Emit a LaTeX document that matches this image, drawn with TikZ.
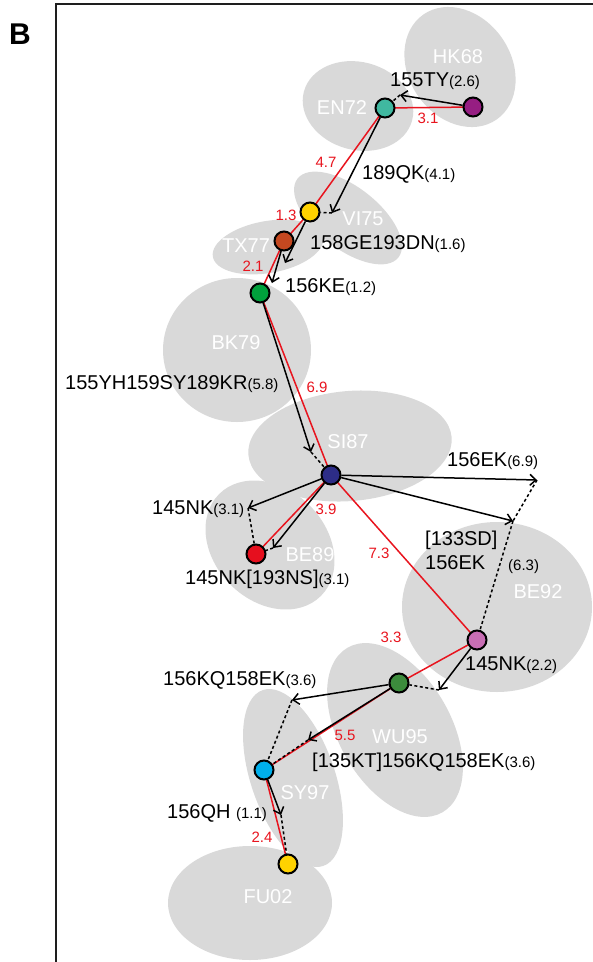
\documentclass[tikz,border=0pt]{standalone}
\usepackage{fontspec}
\setmainfont{Liberation Sans}
\usetikzlibrary{arrows.meta}
\pgfdeclarelayer{bg}
\pgfdeclarelayer{mid}
\pgfsetlayers{bg,mid,main}
\definecolor{blob}{RGB}{217,217,217}
\definecolor{treered}{RGB}{232,20,30}
\definecolor{cHK}{RGB}{150,30,130}
\definecolor{cEN}{RGB}{64,184,160}
\definecolor{cVI}{RGB}{255,210,0}
\definecolor{cTX}{RGB}{196,72,32}
\definecolor{cBK}{RGB}{0,160,60}
\definecolor{cSI}{RGB}{45,45,135}
\definecolor{cBEa}{RGB}{230,15,30}
\definecolor{cBEb}{RGB}{200,110,180}
\definecolor{cWU}{RGB}{60,140,60}
\definecolor{cSY}{RGB}{0,175,235}
\definecolor{cFU}{RGB}{255,210,0}
\newcommand\sm[1]{{\fontsize{15}{17}\selectfont #1}}
\tikzset{
  vnode/.style={circle, draw=black, line width=2pt, minimum size=19pt, inner sep=0pt, fill=#1},
  tree/.style={draw=treered, line width=1.5pt},
  mut/.style={draw=black, line width=1.5pt, -{Straight Barb[length=6pt,width=11pt,line width=1.5pt]}},
  link/.style={draw=black, line width=1.5pt, dash pattern=on 3pt off 2.5pt},
  dist/.style={text=treered, font=\fontsize{15}{17}\selectfont, inner sep=0pt},
  lab/.style={font=\fontsize{20}{23}\selectfont, inner sep=0pt, anchor=base west},
  cname/.style={text=white, font=\fontsize{20}{23}\selectfont, inner sep=0pt},
  blobshape/.style={fill=blob, draw=none},
}
\begin{document}
\begin{tikzpicture}[x=1pt, y=-1pt]
\useasboundingbox (0,0) rectangle (593,962);

% panel letter and frame
\node[font=\fontsize{30}{32}\selectfont\bfseries, inner sep=0pt] (panel) at (20,34) {B};
\draw[line width=2pt, draw={rgb,255:red,30;green,30;blue,30}] (593,4) -- (56,4) -- (56,962);

% antigenic cluster areas
\begin{pgfonlayer}{bg}
\fill[blobshape, shift={(460,67)}, rotate=-55] (0,0) ellipse [x radius=64, y radius=51];
\fill[blobshape, shift={(358,106)}, rotate=-15] (0,0) ellipse [x radius=56, y radius=44];
\fill[blobshape, shift={(348,218)}, rotate=-38] (0,0) ellipse [x radius=64, y radius=31];
\fill[blobshape, shift={(268,247)}, rotate=10] (0,0) ellipse [x radius=56, y radius=26];
\fill[blobshape, shift={(237,350)}] (0,0) ellipse [x radius=74, y radius=72];
\fill[blobshape, shift={(350,446)}, rotate=5] (0,0) ellipse [x radius=102, y radius=55];
\fill[blobshape, shift={(270,545)}, rotate=-45] (0,0) ellipse [x radius=72, y radius=56];
\fill[blobshape, shift={(497,607)}] (0,0) ellipse [x radius=95, y radius=85];
\fill[blobshape, shift={(395,730)}, rotate=-60] (0,0) ellipse [x radius=95, y radius=56];
\fill[blobshape, shift={(293,778)}, rotate=-71] (0,0) ellipse [x radius=93, y radius=42];
\fill[blobshape, shift={(250,903)}] (0,0) ellipse [x radius=82, y radius=57];

\node[cname] (nHK) at (458,57) {HK68};
\node[cname] (nEN) at (342,108) {EN72};
\node[cname] (nVI) at (363,219) {VI75};
\node[cname] (nTX) at (246,246) {TX77};
\node[cname] (nBK) at (236,343) {BK79};
\node[cname] (nSI) at (348,442) {SI87};
\node[cname] (nBEa) at (310,555) {BE89};
\node[cname] (nBEb) at (538,592) {BE92};
\node[cname] (nWU) at (400,737) {WU95};
\node[cname] (nSY) at (305,793) {SY97};
\node[cname] (nFU) at (268,897) {FU02};
\end{pgfonlayer}

% cluster consensus viruses
\node[vnode=cHK] (HK) at (473,107) {};
\node[vnode=cEN] (EN) at (385,108) {};
\node[vnode=cVI] (VI) at (310,212) {};
\node[vnode=cTX] (TX) at (284,241) {};
\node[vnode=cBK] (BK) at (260,293) {};
\node[vnode=cSI] (SI) at (331,475) {};
\node[vnode=cBEa] (BEa) at (256,554) {};
\node[vnode=cBEb] (BEb) at (477,640) {};
\node[vnode=cWU] (WU) at (399,683) {};
\node[vnode=cSY] (SY) at (264,770) {};
\node[vnode=cFU] (FU) at (288,864) {};

% ends of the substitution arrows
\coordinate (t1) at (400,95);
\coordinate (t2) at (332,213);
\coordinate (t3) at (285,263);
\coordinate (t4) at (272,283);
\coordinate (t5) at (311,452);
\coordinate (t6) at (248,508);
\coordinate (t7) at (273,548);
\coordinate (t8) at (537,480);
\coordinate (t9) at (513,521);
\coordinate (t10) at (439,690);
\coordinate (t11) at (292,700);
\coordinate (t12) at (308,740);
\coordinate (t13) at (281,815);

\begin{pgfonlayer}{mid}
% tree branches
\draw[tree] (HK.center) -- (EN.center);
\draw[tree] (EN.center) -- (VI.center);
\draw[tree] (VI.center) -- (TX.center);
\draw[tree] (TX.center) -- (BK.center);
\draw[tree] (BK.center) -- (SI.center);
\draw[tree] (SI.center) -- (BEa.center);
\draw[tree] (SI.center) -- (BEb.center);
\draw[tree] (BEb.center) -- (WU.center);
\draw[tree] (WU.center) -- (SY.center);
\draw[tree] (SY.center) -- (FU.center);

% substitutions
\draw[mut] (HK) -- (t1);
\draw[link] (t1) -- (EN);
\draw[mut] (EN) -- (t2);
\draw[link] (t2) -- (VI);
\draw[mut] (VI) -- (t3);
\draw[mut] (TX) -- (t4);
\draw[mut] (BK) -- (t5);
\draw[link] (t5) -- (SI);
\draw[mut] (SI) -- (t6);
\draw[link] (t6) -- (BEa);
\draw[mut] (SI) -- (t7);
\draw[link] (t7) -- (BEa);
\draw[mut] (SI) -- (t8);
\draw[link] (t8) -- (t9);
\draw[mut] (SI) -- (t9);
\draw[link] (t9) -- (BEb);
\draw[mut] (BEb) -- (t10);
\draw[link] (t10) -- (WU);
\draw[mut] (WU) -- (t11);
\draw[link] (t11) -- (SY);
\draw[mut] (WU) -- (t12);
\draw[link] (t12) -- (SY);
\draw[mut] (SY) -- (t13);
\draw[link] (t13) -- (FU);
\end{pgfonlayer}

% branch lengths
\node[dist] (d1) at (428,118) {3.1};
\node[dist] (d2) at (326,162) {4.7};
\node[dist] (d3) at (286,215) {1.3};
\node[dist] (d4) at (253,266) {2.1};
\node[dist] (d5) at (317,387) {6.9};
\node[dist] (d6) at (326,509) {3.9};
\node[dist] (d7) at (379,553) {7.3};
\node[dist] (d8) at (391,637) {3.3};
\node[dist] (d9) at (345,735) {5.5};
\node[dist] (d10) at (262,837) {2.4};

% substitution labels
\node[lab] (m1) at (390,86) {155TY\sm{(2.6)}};
\node[lab] (m2) at (362,179) {189QK\sm{(4.1)}};
\node[lab] (m3) at (310,249) {158GE193DN\sm{(1.6)}};
\node[lab] (m4) at (285,292) {156KE\sm{(1.2)}};
\node[lab] (m5) at (65,389) {155YH159SY189KR\sm{(5.8)}};
\node[lab] (m6) at (152,514) {145NK\sm{(3.1)}};
\node[lab] (m7) at (185,584) {145NK[193NS]\sm{(3.1)}};
\node[lab] (m8) at (447,466) {156EK\sm{(6.9)}};
\node[lab] (m9a) at (425,545) {[133SD]};
\node[lab] (m9b) at (425,569) {156EK};
\node[lab] (m9c) at (508,570) {\sm{(6.3)}};
\node[lab] (m10) at (465,670) {145NK\sm{(2.2)}};
\node[lab] (m11) at (163,685) {156KQ158EK\sm{(3.6)}};
\node[lab] (m12) at (312,767) {[135KT]156KQ158EK\sm{(3.6)}};
\node[lab] (m13) at (167,818) {156QH \sm{(1.1)}};
\end{tikzpicture}
\end{document}
